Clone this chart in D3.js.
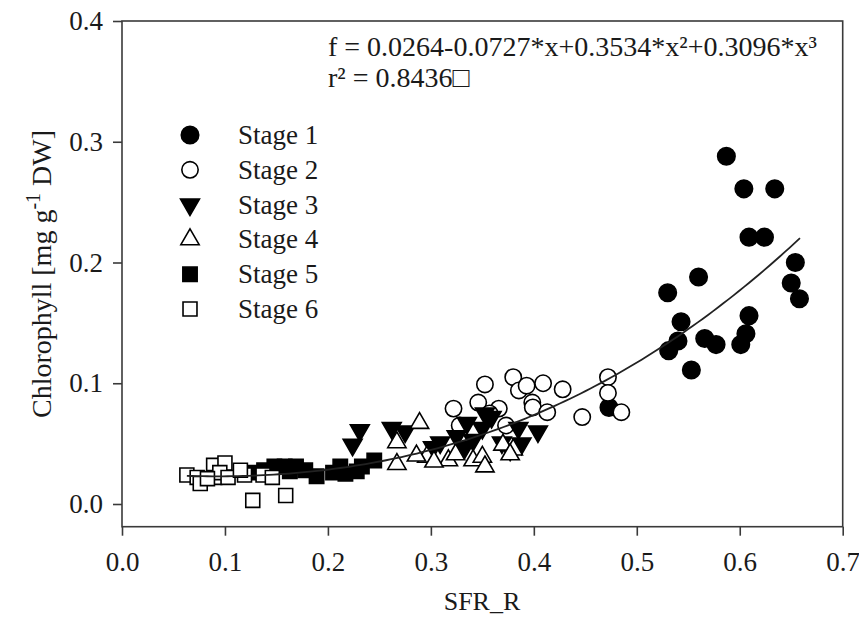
<!DOCTYPE html>
<html><head><meta charset="utf-8">
<script src="https://cdn.jsdelivr.net/npm/d3@7"></script>
<style>body{margin:0;background:#fff}svg{display:block}</style>
</head><body><div id="chart"></div>
<script>
// ---------- data ----------
const xTicks = [0.0, 0.1, 0.2, 0.3, 0.4, 0.5, 0.6, 0.7];
const yTicks = [0.0, 0.1, 0.2, 0.3, 0.4];
const stageNames = ["Stage 1", "Stage 2", "Stage 3", "Stage 4", "Stage 5", "Stage 6"];
const stage1 = [[0.587,0.288],[0.604,0.261],[0.634,0.261],[0.609,0.221],[0.624,0.221],[0.654,0.200],[0.650,0.183],[0.658,0.170],[0.560,0.188],[0.530,0.175],[0.543,0.151],[0.609,0.156],[0.531,0.127],[0.540,0.135],[0.566,0.137],[0.577,0.132],[0.553,0.111],[0.601,0.132],[0.606,0.141],[0.473,0.080]];
const stage2 = [[0.380,0.105],[0.409,0.100],[0.428,0.095],[0.472,0.105],[0.472,0.092],[0.485,0.076],[0.447,0.072],[0.3525,0.099],[0.322,0.079],[0.346,0.084],[0.366,0.079],[0.3855,0.094],[0.3985,0.084],[0.399,0.080],[0.413,0.076],[0.373,0.065],[0.357,0.075],[0.393,0.098],[0.328,0.065]];
const stage3 = [[0.231,0.061],[0.224,0.049],[0.262,0.063],[0.275,0.060],[0.335,0.067],[0.3525,0.075],[0.359,0.072],[0.350,0.063],[0.325,0.056],[0.309,0.051],[0.302,0.047],[0.385,0.063],[0.388,0.050],[0.369,0.051],[0.404,0.060],[0.333,0.047],[0.341,0.053],[0.377,0.045]];
const stage4 = [[0.289,0.067],[0.267,0.051],[0.267,0.033],[0.296,0.039],[0.317,0.036],[0.341,0.036],[0.350,0.039],[0.3525,0.031],[0.370,0.049],[0.380,0.045],[0.303,0.035],[0.286,0.040],[0.324,0.041],[0.377,0.041]];
const stage5 = [[0.138,0.028],[0.148,0.031],[0.158,0.031],[0.169,0.031],[0.163,0.027],[0.189,0.023],[0.178,0.028],[0.212,0.031],[0.217,0.025],[0.228,0.027],[0.233,0.031],[0.245,0.036],[0.129,0.026],[0.205,0.026]];
const stage6 = [[0.063,0.024],[0.073,0.022],[0.076,0.017],[0.089,0.032],[0.100,0.034],[0.090,0.022],[0.095,0.026],[0.083,0.021],[0.103,0.022],[0.119,0.024],[0.137,0.024],[0.146,0.022],[0.127,0.003],[0.159,0.007],[0.115,0.028]];
const fitCoef = [0.0264, -0.0727, 0.3534, 0.3096];
const fitRange = [0.063, 0.6585];
const eqLine1 = "f = 0.0264-0.0727*x+0.3534*x\u00B2+0.3096*x\u00B3";
const eqLine2 = "r\u00B2 = 0.8436\u25A1";
const xTitle = "SFR_R";

// ---------- chart ----------
const W = 859, H = 630;
const svg = d3.select("#chart").append("svg").attr("width", W).attr("height", H);
const FONT = "'Liberation Serif','Times New Roman',serif";
const INK = "#1a1a1a", AX = "#3a3a3a";

const x = d3.scaleLinear().domain([0, 0.7]).range([122, 842.7]);
const y = d3.scaleLinear().domain([0, 0.4]).range([504, 21]);
const yBottom = 526.7;

// frame
svg.append("rect").attr("x", x(0)).attr("y", y(0.4))
  .attr("width", x(0.7) - x(0)).attr("height", yBottom - y(0.4))
  .attr("fill", "none").attr("stroke", AX).attr("stroke-width", 1.6);

// x axis
const gx = svg.append("g").attr("transform", `translate(0,${yBottom})`)
  .call(d3.axisBottom(x).tickValues(xTicks).tickFormat(d3.format(".1f")).tickSizeInner(9).tickSizeOuter(0).tickPadding(16));
gx.select(".domain").remove();
gx.selectAll("line").attr("stroke", AX).attr("stroke-width", 1.6);
gx.selectAll("text").attr("font-family", FONT).attr("font-size", 27).attr("fill", INK);

// y axis
const gy = svg.append("g").attr("transform", `translate(${x(0)},0)`)
  .call(d3.axisLeft(y).tickValues(yTicks).tickFormat(d3.format(".1f")).tickSizeInner(9).tickSizeOuter(0).tickPadding(10));
gy.select(".domain").remove();
gy.selectAll("line").attr("stroke", AX).attr("stroke-width", 1.6);
gy.selectAll("text").attr("font-family", FONT).attr("font-size", 27).attr("fill", INK);

// axis titles
svg.append("text").attr("x", 482).attr("y", 610).attr("text-anchor", "middle")
  .attr("font-family", FONT).attr("font-size", 26).attr("fill", INK).text(xTitle);
const yt = svg.append("text").attr("transform", "translate(51,274) rotate(-90)")
  .attr("text-anchor", "middle").attr("font-family", FONT).attr("font-size", 28).attr("fill", INK);
yt.append("tspan").text("Chlorophyll [mg g");
yt.append("tspan").attr("font-size", 20).attr("dy", -11).text("-1");
yt.append("tspan").attr("dy", 11).text(" DW]");

// symbols
const sym = [
  {type: d3.symbolCircle, size: 240, fill: "#000", stroke: "#000"},
  {type: d3.symbolCircle, size: 210, fill: "#fff", stroke: "#000"},
  {type: d3.symbolTriangle, size: 155, fill: "#000", stroke: "#000", rot: 180},
  {type: d3.symbolTriangle, size: 145, fill: "#fff", stroke: "#000", rot: 0},
  {type: d3.symbolSquare, size: 205, fill: "#000", stroke: "#000"},
  {type: d3.symbolSquare, size: 195, fill: "#fff", stroke: "#000"}
];
const stages = [stage1, stage2, stage3, stage4, stage5, stage6];

stages.forEach((data, i) => {
  const s = sym[i];
  svg.append("g").selectAll("path").data(data).join("path")
    .attr("d", d3.symbol().type(s.type).size(s.size))
    .attr("transform", d => `translate(${x(d[0])},${y(d[1])})` + (s.rot ? ` rotate(${s.rot})` : ""))
    .attr("fill", s.fill).attr("stroke", s.stroke).attr("stroke-width", 1.6);
});

// fitted curve
const poly = v => fitCoef[0] + fitCoef[1]*v + fitCoef[2]*v*v + fitCoef[3]*v*v*v;
const xs = d3.range(fitRange[0], fitRange[1] + 1e-9, (fitRange[1]-fitRange[0])/120);
svg.append("path").datum(xs)
  .attr("d", d3.line().x(v => x(v)).y(v => y(poly(v))))
  .attr("fill", "none").attr("stroke", "#222").attr("stroke-width", 1.8);

// equation text
svg.append("text").attr("x", 328).attr("y", 56).attr("font-family", FONT).attr("font-size", 28).attr("fill", INK).text(eqLine1);
svg.append("text").attr("x", 328).attr("y", 87).attr("font-family", FONT).attr("font-size", 28).attr("fill", INK).text(eqLine2);

// legend
const legY0 = 135, legDy = 34.8;
stageNames.forEach((name, i) => {
  const s = sym[i];
  const cy = legY0 + i * legDy;
  svg.append("path").attr("d", d3.symbol().type(s.type).size(s.size))
    .attr("transform", `translate(190,${cy})` + (s.rot ? ` rotate(${s.rot})` : ""))
    .attr("fill", s.fill).attr("stroke", s.stroke).attr("stroke-width", 1.6);
  svg.append("text").attr("x", 238).attr("y", cy + 9).attr("font-family", FONT)
    .attr("font-size", 27).attr("fill", INK).text(name);
});
</script></body></html>
